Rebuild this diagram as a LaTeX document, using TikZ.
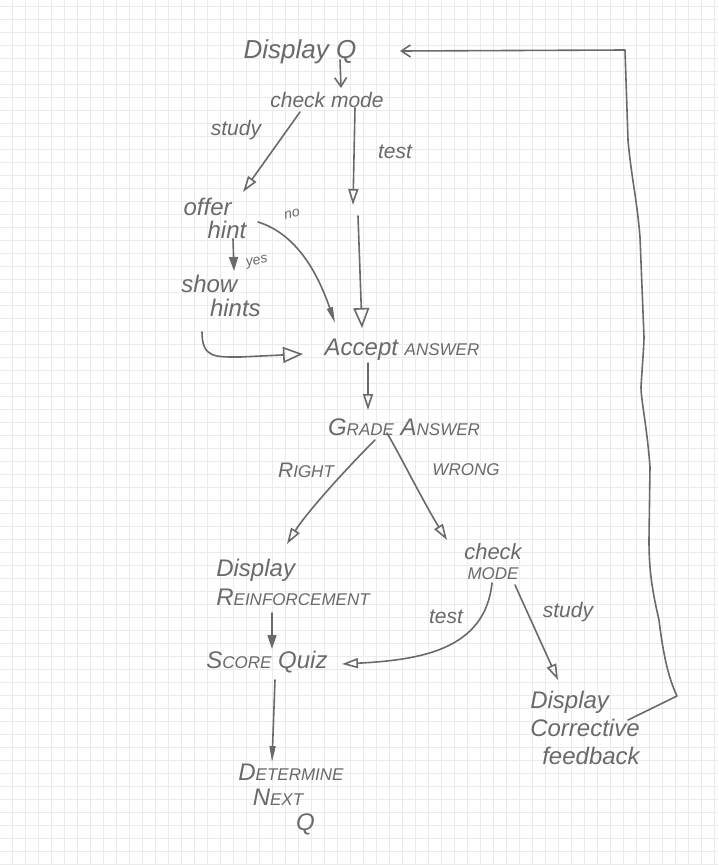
\documentclass[tikz,border=0pt]{standalone}
\usepackage{fontspec}
\setmainfont{Liberation Sans}
\usetikzlibrary{arrows.meta}
\definecolor{ink}{HTML}{6A6A6A}
\definecolor{gridc}{HTML}{EBEBEB}
\newcommand\smcaps[1]{{\fontsize{17}{19}\selectfont #1}}
\tikzset{
  lbl/.style={text=ink, font=\fontsize{24}{25}\selectfont\itshape, inner sep=0pt, align=center},
  smalllbl/.style={text=ink, font=\fontsize{21}{23}\selectfont\itshape, inner sep=0pt},
  tinylbl/.style={text=ink, font=\fontsize{14}{15}\selectfont\itshape, inner sep=0pt},
  wire/.style={draw=ink, line width=1.6pt, line cap=round, line join=round},
  openhead/.style={wire, -{Triangle[open, length=16pt, width=10pt, line width=1.6pt]}},
  bigopen/.style={wire, -{Triangle[open, length=20pt, width=16pt, line width=1.6pt]}},
  fillhead/.style={wire, -{Triangle[length=14pt, width=9pt]}},
  thinhead/.style={wire, -{Triangle[length=16pt, width=6pt]}},
  vhead/.style={wire, -{Straight Barb[length=9pt, width=12pt, line width=1.6pt]}},
}
\begin{document}
\begin{tikzpicture}[x=1pt,y=-1pt]
\fill[white] (0,0) rectangle (718,865);
\useasboundingbox (0,0) rectangle (718,865);
\foreach \i in {0,...,54} \draw[gridc, line width=1pt] (12.5+13*\i,0) -- (12.5+13*\i,865);
\foreach \j in {0,...,66} \draw[gridc, line width=1pt] (0,6.5+13*\j) -- (718,6.5+13*\j);

% nodes
\node[lbl, font=\fontsize{26}{28}\selectfont\itshape] (dq) at (300,52) {Display Q};
\node[lbl, font=\fontsize{21}{23}\selectfont\itshape] (cm1) at (327,100) {check mode};
\node[smalllbl] (study1) at (236,130) {study};
\node[smalllbl] (test1) at (395,152) {test};
\node[lbl, align=left, font=\fontsize{24}{23}\selectfont\itshape] (offer) at (215,218) {offer\\\hspace{1.0em}hint};
\node[tinylbl, rotate=12] (no) at (292,214) {no};
\node[tinylbl, rotate=12] (yes) at (257,262) {yes};
\node[lbl, align=left, font=\fontsize{24}{24}\selectfont\itshape] (show) at (221,296) {show\\\hspace{1.2em}hints};
\node[lbl] (acc) at (402,350) {Accept \smcaps{ANSWER}};
\node[lbl] (grade) at (404,427) {G\smcaps{RADE} A\smcaps{NSWER}};
\node[smalllbl] (right) at (306,470) {R\smcaps{IGHT}};
\node[smalllbl] (wrong) at (466,470) {\smcaps{WRONG}};
\node[lbl, align=left, font=\fontsize{24}{29}\selectfont\itshape] (reinf) at (293,582) {Display\\R\smcaps{EINFORCEMENT}};
\node[lbl, font=\fontsize{22}{20}\selectfont\itshape] (cm2) at (493,562) {check\\\smcaps{MODE}};
\node[smalllbl] (test2) at (446,617) {test};
\node[smalllbl] (study2) at (568,612) {study};
\node[lbl] (score) at (267,662) {S\smcaps{CORE} Quiz};
\node[lbl, align=left, font=\fontsize{24}{28}\selectfont\itshape] (feed) at (585,728) {Display\\Corrective\\\hspace{0.5em}feedback};
\node[lbl, align=left, font=\fontsize{24}{25}\selectfont\itshape] (det) at (291,800) {D\smcaps{ETERMINE}\\\hspace{0.6em}N\smcaps{EXT}\\\hspace{2.4em}Q};

\coordinate (t1) at (353,205);
\coordinate (t2) at (358,216);

% connectors
\draw[vhead] ([shift={(40,8)}]dq.center) -- ([shift={(14,-12)}]cm1.center);
\draw[openhead] ([shift={(-27,12)}]cm1.center) -- ([shift={(28,-26)}]offer.center);
\draw[openhead] ([shift={(28,8)}]cm1.center) -- (t1);
\draw[bigopen] (t2) -- ([shift={(-40,-22)}]acc.center);
\draw[fillhead] ([shift={(18,21)}]offer.center) -- ([shift={(13,-25)}]show.center);
\draw[thinhead] ([shift={(43,4)}]offer.center) .. controls (300,235) and (320,280) .. ([shift={(-67,-27)}]acc.center);
\draw[bigopen] ([shift={(-19,36)}]show.center) .. controls (202,358) and (215,357) .. (240,357) -- ([shift={(-99,4)}]acc.center);
\draw[openhead] ([shift={(-34,13)}]acc.center) -- ([shift={(-36,-17)}]grade.center);
\draw[openhead] ([shift={(-29,13)}]grade.center) .. controls (340,475) and (305,515) .. ([shift={(-6,-38)}]reinf.center);
\draw[openhead] ([shift={(-17,6)}]grade.center) .. controls (400,455) and (425,505) .. ([shift={(-46,-22)}]cm2.center);
\draw[fillhead] ([shift={(-21,31)}]reinf.center) -- ([shift={(5,-13)}]score.center);
\draw[thinhead] ([shift={(8,18)}]score.center) -- ([shift={(-19,-38)}]det.center);
\draw[openhead] ([shift={(-1,21)}]cm2.center) .. controls (485,650) and (420,660) .. ([shift={(75,2)}]score.center);
\draw[openhead] ([shift={(22,23)}]cm2.center) -- ([shift={(-27,-48)}]feed.center);
\draw[vhead] ([shift={(43,-8)}]feed.center) -- (677,696)
  .. controls (668,677) and (663,653) .. (659,620)
  .. controls (652,590) and (649,570) .. (649,540)
  -- (650,467) .. controls (647,427) and (641,400) .. (641,387)
  .. controls (642,370) and (644,345) .. (644,337)
  -- (640,237) .. controls (637,200) and (631,175) .. (628,140)
  -- (625,50) -- ([shift={(100,-1)}]dq.center);
\end{tikzpicture}
\end{document}
